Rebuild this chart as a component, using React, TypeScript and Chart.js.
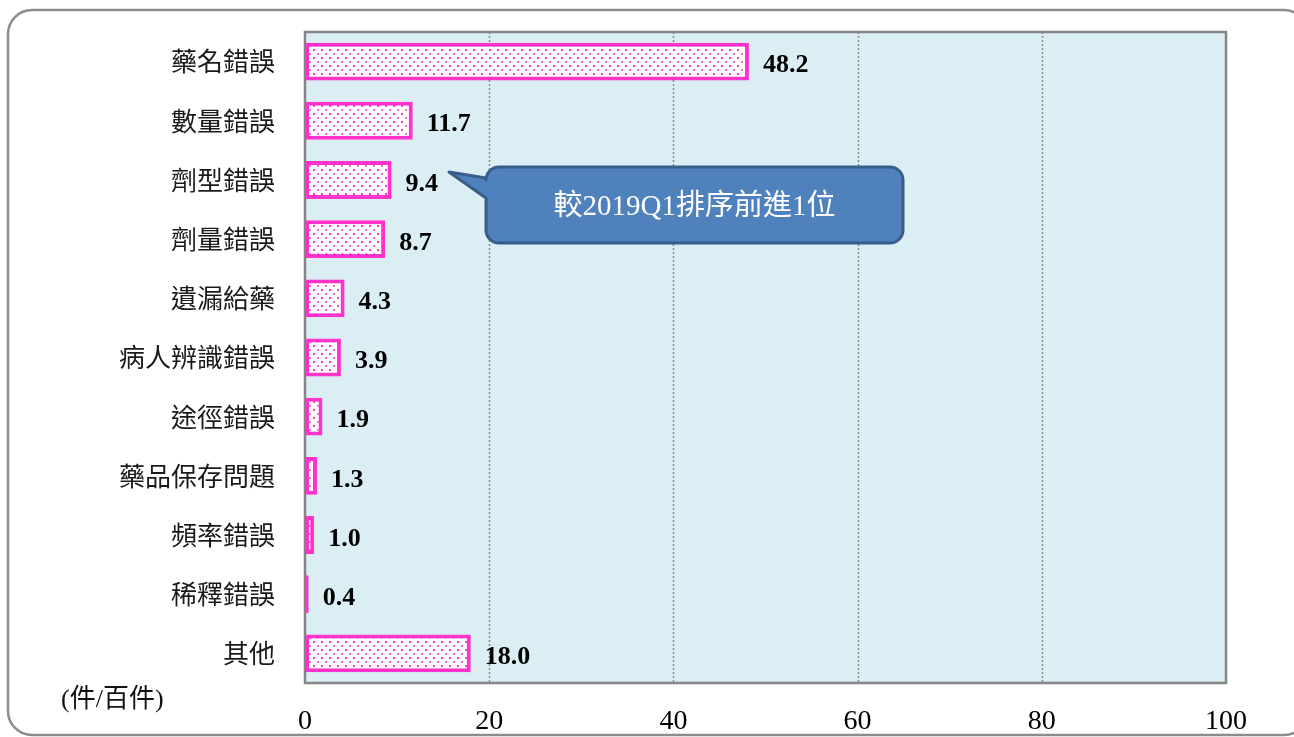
import React, { useEffect, useRef } from "react";
import { Chart, registerables } from "chart.js";
Chart.register(...registerables);

const categories = [
  "藥名錯誤",
  "數量錯誤",
  "劑型錯誤",
  "劑量錯誤",
  "遺漏給藥",
  "病人辨識錯誤",
  "途徑錯誤",
  "藥品保存問題",
  "頻率錯誤",
  "稀釋錯誤",
  "其他",
];
const values = [48.2, 11.7, 9.4, 8.7, 4.3, 3.9, 1.9, 1.3, 1.0, 0.4, 18.0];
const xMin = 0;
const xMax = 100;
const xStep = 20;
const unitLabel = "(件/百件)";
const calloutText = "較2019Q1排序前進1位";

const PINK = "#FF33CC";
const SERIF = '"Liberation Serif", "Times New Roman", "Noto Sans CJK TC", serif';
const CJK = '"Noto Sans CJK TC", "Noto Sans CJK SC", sans-serif';

function makePattern(): CanvasPattern | string {
  const c = document.createElement("canvas");
  c.width = 8;
  c.height = 8;
  const g = c.getContext("2d");
  if (!g) return "#fff";
  g.fillStyle = "#ffffff";
  g.fillRect(0, 0, 8, 8);
  g.fillStyle = PINK;
  g.fillRect(1, 1, 2, 2);
  g.globalAlpha = 0.75;
  g.fillRect(5, 5, 2, 2);
  const p = g.createPattern(c, "repeat");
  return p || "#fff";
}

const decorPlugin = {
  id: "decor",
  beforeDraw(chart: any) {
    const { ctx, chartArea, scales } = chart;
    ctx.save();
    // outer rounded frame
    ctx.strokeStyle = "#8c8c8c";
    ctx.lineWidth = 2.5;
    ctx.beginPath();
    (ctx as any).roundRect(8, 10, 1300, 725, 24);
    ctx.stroke();
    // plot background
    ctx.fillStyle = "#DAEEF3";
    ctx.fillRect(chartArea.left, chartArea.top, chartArea.right - chartArea.left, chartArea.bottom - chartArea.top);
    // dotted grid lines
    const xs = scales.x;
    ctx.strokeStyle = "#8a8a8a";
    ctx.lineWidth = 1.5;
    ctx.setLineDash([2, 2]);
    for (let v = xMin + xStep; v < xMax; v += xStep) {
      const px = Math.round(xs.getPixelForValue(v)) + 0.5;
      ctx.beginPath();
      ctx.moveTo(px, chartArea.top);
      ctx.lineTo(px, chartArea.bottom);
      ctx.stroke();
    }
    ctx.setLineDash([]);
    ctx.restore();
  },
  beforeDatasetsDraw(chart: any) {
    const { ctx, chartArea } = chart;
    ctx.save();
    ctx.strokeStyle = "#858585";
    ctx.lineWidth = 2.5;
    ctx.strokeRect(chartArea.left, chartArea.top, chartArea.right - chartArea.left, chartArea.bottom - chartArea.top);
    ctx.restore();
  },
  afterDatasetsDraw(chart: any) {
    const { ctx } = chart;
    const meta = chart.getDatasetMeta(0);
    ctx.save();
    // value labels
    ctx.fillStyle = "#000";
    ctx.font = "bold 26px " + SERIF;
    ctx.textAlign = "left";
    ctx.textBaseline = "middle";
    meta.data.forEach((bar: any, i: number) => {
      ctx.fillText(values[i].toFixed(1), bar.x + 14, bar.y + 4);
    });
    // unit label
    ctx.font = "26px " + SERIF;
    ctx.fillStyle = "#111";
    ctx.textAlign = "left";
    ctx.fillText(unitLabel, 61, 700);

    // callout
    const L = 486, T = 167, R = 903, B = 243, r = 13;
    const tipX = 449, tipY = 172;
    ctx.beginPath();
    ctx.moveTo(L + r, T);
    ctx.lineTo(R - r, T);
    ctx.arcTo(R, T, R, T + r, r);
    ctx.lineTo(R, B - r);
    ctx.arcTo(R, B, R - r, B, r);
    ctx.lineTo(L + r, B);
    ctx.arcTo(L, B, L, B - r, r);
    ctx.lineTo(L, 198);
    ctx.lineTo(tipX, tipY);
    ctx.lineTo(L, 178);
    ctx.lineTo(L, T + r);
    ctx.arcTo(L, T, L + r, T, r);
    ctx.closePath();
    ctx.fillStyle = "#4F81BD";
    ctx.fill();
    ctx.strokeStyle = "#385D8A";
    ctx.lineWidth = 3;
    ctx.lineJoin = "round";
    ctx.stroke();
    ctx.fillStyle = "#ffffff";
    ctx.font = "29px " + SERIF;
    ctx.textAlign = "center";
    ctx.textBaseline = "middle";
    ctx.fillText(calloutText, (L + R) / 2, 207);
    ctx.restore();
  },
};

export default function App() {
  const ref = useRef<HTMLCanvasElement | null>(null);
  useEffect(() => {
    if (!ref.current) return;
    const pattern = makePattern();
    const chart = new Chart(ref.current, {
      type: "bar",
      data: {
        labels: categories,
        datasets: [
          {
            data: values,
            backgroundColor: pattern as any,
            borderColor: PINK,
            borderWidth: 4,
            borderSkipped: false,
            barPercentage: 0.64,
            categoryPercentage: 1,
          },
        ],
      },
      options: {
        indexAxis: "y",
        responsive: false,
        animation: false,
        devicePixelRatio: 1,
        layout: { padding: { left: 0, top: 32, right: 68, bottom: 0 } },
        plugins: { legend: { display: false }, tooltip: { enabled: false } },
        scales: {
          x: {
            min: xMin,
            max: xMax,
            ticks: {
              stepSize: xStep,
              padding: 22,
              color: "#000",
              font: { family: SERIF, size: 28 },
            },
            grid: { display: false, drawTicks: false },
            border: { display: false },
            afterFit: (s: any) => {
              s.height = 54;
              s.paddingTop = 0;
              s.paddingBottom = 0;
              s.paddingLeft = 0;
              s.paddingRight = 0;
            },
          },
          y: {
            ticks: {
              padding: 30,
              color: "#1a1a1a",
              font: { family: CJK, size: 26 },
            },
            grid: { display: false, drawTicks: false },
            border: { display: false },
            afterFit: (s: any) => {
              s.width = 305;
              s.paddingTop = 0;
              s.paddingBottom = 0;
              s.paddingLeft = 0;
              s.paddingRight = 0;
            },
          },
        },
      },
      plugins: [decorPlugin],
    });
    return () => chart.destroy();
  }, []);
  return (
    <div style={{ position: "fixed", left: 0, top: 0, width: 1294, height: 737, background: "#fff" }}>
      <canvas ref={ref} width={1294} height={737} style={{ display: "block" }} />
    </div>
  );
}
